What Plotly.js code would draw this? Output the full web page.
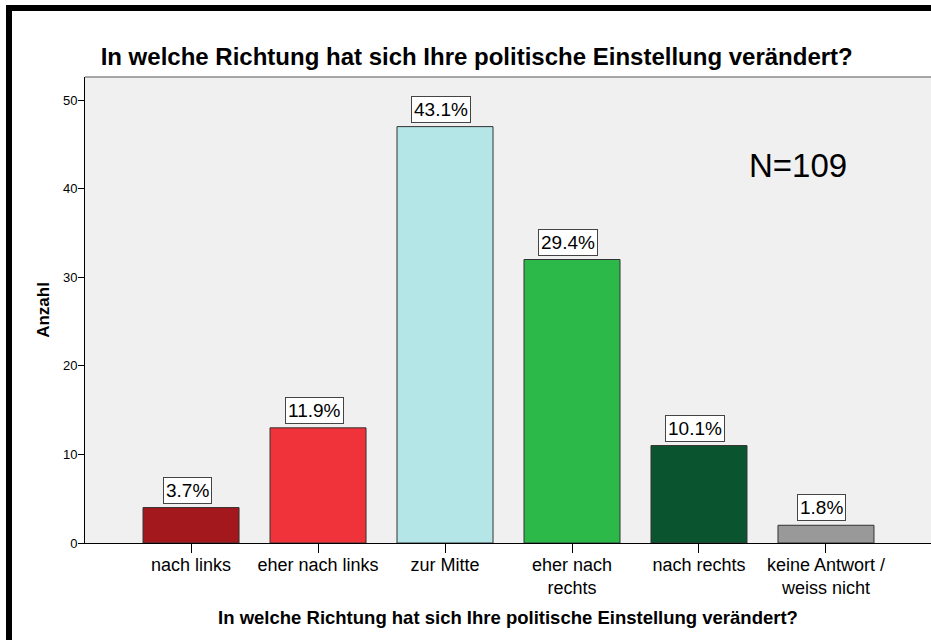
<!DOCTYPE html>
<html>
<head>
<meta charset="utf-8">
<script src="https://cdn.plot.ly/plotly-3.0.1.min.js"></script>
<style>
html,body{margin:0;padding:0;background:#fff;}
#wrap{position:relative;width:931px;height:640px;overflow:hidden;}
#chart{position:absolute;left:0;top:0;width:931px;height:640px;}
.bt{position:absolute;left:6px;top:5px;width:925px;height:6px;background:#000;}
.bl{position:absolute;left:6px;top:5px;width:6px;height:635px;background:#000;}
</style>
</head>
<body>
<div id="wrap">
<div id="chart"></div>
<div class="bt"></div>
<div class="bl"></div>
</div>
<script>
const categories = ["nach links", "eher nach links", "zur Mitte", "eher nach<br>rechts", "nach rechts", "keine Antwort /<br>weiss nicht"];
const counts = [4, 13, 47, 32, 11, 2];
const percentLabels = ["3.7%", "11.9%", "43.1%", "29.4%", "10.1%", "1.8%"];
const barColors = ["#a3181d", "#f0333a", "#b4e6e8", "#2db84a", "#0a5530", "#999999"];
const yTicks = [0, 10, 20, 30, 40, 50];
const titleText = "In welche Richtung hat sich Ihre politische Einstellung verändert?";
const xTitleText = "In welche Richtung hat sich Ihre politische Einstellung verändert?";
const yTitleText = "Anzahl";
const nText = "N=109";

const xIdx = categories.map((c, i) => i);
const font = "Liberation Sans, Arial, sans-serif";

const trace = {
  type: "bar",
  x: xIdx,
  y: counts,
  width: 0.756,
  marker: {color: barColors, line: {color: "#333333", width: 1}},
  hoverinfo: "none"
};

const annotations = percentLabels.map((t, i) => ({
  x: i, y: counts[i], xref: "x", yref: "y",
  text: t, showarrow: false,
  xanchor: "center", yanchor: "bottom", yshift: 4, xshift: -4,
  font: {family: font, size: 19, color: "#000"},
  bgcolor: "#ffffff", bordercolor: "#444444", borderwidth: 1, borderpad: 2
}));
annotations.push({
  x: 0.843, y: 0.811, xref: "paper", yref: "paper",
  text: nText, showarrow: false,
  xanchor: "center", yanchor: "middle",
  font: {family: font, size: 33, color: "#000"}
});

const layout = {
  width: 931, height: 640,
  margin: {l: 85, r: 0, t: 77, b: 97},
  paper_bgcolor: "#ffffff",
  plot_bgcolor: "#f0f0f0",
  showlegend: false,
  title: {
    text: "<b>" + titleText + "</b>",
    x: 0.463, xref: "paper", xanchor: "center",
    y: 1 - 57/640, yref: "container", yanchor: "middle",
    font: {family: font, size: 24, color: "#000"}
  },
  xaxis: {
    range: [-0.835, 5.827],
    tickmode: "array", tickvals: xIdx, ticktext: categories,
    ticks: "outside", ticklen: 9, tickwidth: 1, tickcolor: "#000",
    ticklabelstandoff: -4,
    showline: true, linecolor: "#000", linewidth: 1,
    showgrid: false, zeroline: false,
    tickfont: {family: font, size: 18, color: "#000"},
    title: {text: "<b>" + xTitleText + "</b>", standoff: 14,
      font: {family: font, size: 18.5, color: "#000"}}
  },
  yaxis: {
    range: [0, 52.6],
    tickmode: "array", tickvals: yTicks,
    ticks: "outside", ticklen: 6, tickwidth: 1, tickcolor: "#000",
    ticklabelstandoff: -2,
    showline: true, linecolor: "#000", linewidth: 1,
    showgrid: false, zeroline: false,
    tickfont: {family: font, size: 13, color: "#000"},
    title: {text: "<b>" + yTitleText + "</b>", standoff: 8,
      font: {family: font, size: 17, color: "#000"}}
  },
  shapes: [{
    type: "line", xref: "paper", yref: "paper",
    x0: 0, x1: 1, y0: 1, y1: 1,
    line: {color: "#555555", width: 1}
  }],
  annotations: annotations
};

Plotly.newPlot("chart", [trace], layout, {displayModeBar: false, staticPlot: true});
</script>
</body>
</html>
